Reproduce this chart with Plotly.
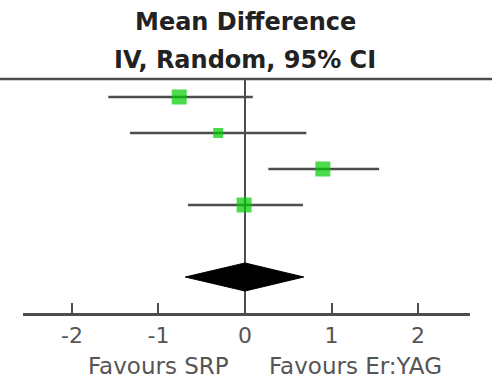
import plotly.graph_objects as go

# Data (mean difference, 95% CI)
study_rows = [1, 2, 3, 4]
md = [-0.76, -0.31, 0.90, -0.01]
ci_low = [-1.58, -1.33, 0.27, -0.66]
ci_high = [0.09, 0.71, 1.55, 0.67]

pooled_row = 6
pooled_md = 0.0
pooled_low = -0.69
pooled_high = 0.68

tick_vals = [-2, -1, 0, 1, 2]
tick_text = ["-2", "-1", "0", "1", "2"]

title_lines = ["Mean Difference", "IV, Random, 95% CI"]
favours_left = "Favours SRP"
favours_right = "Favours Er:YAG"

# styles
marker_sizes = [15, 10, 15, 15]
diamond_half_height = 0.39
line_col = "#4d4d4d"
text_col = "#555555"
font_family = "DejaVu Sans"

W, H = 498, 378
ml, mr, mt, mb = 23, 28, 79, 65

fig = go.Figure()

# study estimates with CIs
fig.add_trace(go.Scatter(
    x=md, y=study_rows, mode="markers",
    marker=dict(symbol="square", size=marker_sizes, color="#00cc00", line=dict(width=0)),
    error_x=dict(type="data", symmetric=False,
                 array=[h - m for h, m in zip(ci_high, md)],
                 arrayminus=[m - l for m, l in zip(md, ci_low)],
                 width=0, thickness=2.5, color=line_col),
    showlegend=False, hoverinfo="skip",
))

# pooled diamond
fig.add_trace(go.Scatter(
    x=[pooled_low, pooled_md, pooled_high, pooled_md, pooled_low],
    y=[pooled_row, pooled_row - diamond_half_height, pooled_row,
       pooled_row + diamond_half_height, pooled_row],
    mode="lines", fill="toself", fillcolor="black",
    line=dict(color="black", width=1), showlegend=False, hoverinfo="skip",
))

# vertical line of no effect
fig.add_shape(type="line", xref="x", yref="paper", x0=0, x1=0, y0=0, y1=1,
              line=dict(color=line_col, width=2), layer="below")

# top horizontal rule (extends beyond plot area)
pw = W - ml - mr
fig.add_shape(type="line", xref="paper", yref="paper",
              x0=(0 - ml) / pw, x1=(492 - ml) / pw, y0=1, y1=1,
              line=dict(color=line_col, width=2.5))

ph = H - mt - mb
def py(pix):
    return 1 - (pix - mt) / ph

def px(pix):
    return (pix - ml) / pw

fig.add_annotation(text=f"<b>{title_lines[0]}</b>", xref="paper", yref="paper",
                   x=px(245), y=py(22), showarrow=False,
                   font=dict(family=font_family, size=24, color="#222222"),
                   xanchor="center", yanchor="middle")
fig.add_annotation(text=f"<b>{title_lines[1]}</b>", xref="paper", yref="paper",
                   x=px(245), y=py(60), showarrow=False,
                   font=dict(family=font_family, size=24, color="#222222"),
                   xanchor="center", yanchor="middle")
fig.add_annotation(text=favours_left, xref="paper", yref="paper",
                   x=px(158), y=py(366), showarrow=False,
                   font=dict(family=font_family, size=23, color=text_col),
                   xanchor="center", yanchor="middle")
fig.add_annotation(text=favours_right, xref="paper", yref="paper",
                   x=px(355), y=py(366), showarrow=False,
                   font=dict(family=font_family, size=23, color=text_col),
                   xanchor="center", yanchor="middle")

fig.update_layout(
    width=W, height=H,
    margin=dict(l=ml, r=mr, t=mt, b=mb, pad=0),
    paper_bgcolor="white", plot_bgcolor="white",
    xaxis=dict(range=[-2.566, 2.601], tickvals=tick_vals, ticktext=tick_text,
               ticks="inside", ticklen=10, tickwidth=2, tickcolor=line_col,
               showline=True, linecolor=line_col, linewidth=2.5,
               showgrid=False, zeroline=False, ticklabelstandoff=1,
               tickfont=dict(family=font_family, size=22, color=text_col),
               fixedrange=True),
    yaxis=dict(range=[7, 0.5], visible=False, showgrid=False, zeroline=False,
               fixedrange=True),
)

fig.write_html("out.html", config={"displayModeBar": False})
